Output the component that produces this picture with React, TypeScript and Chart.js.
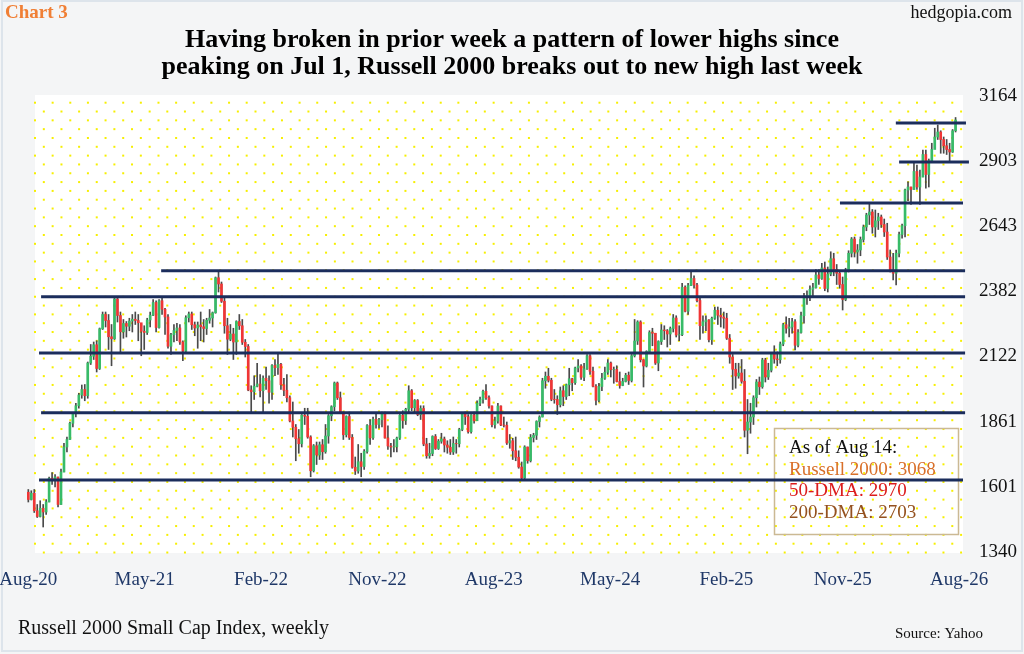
import { useEffect, useRef } from 'react'
import { Chart, registerables } from 'chart.js'

Chart.register(...registerables)

const SERIF = "'Liberation Serif', 'Times New Roman', serif"

// weekly bars, first one is the week of Aug 21 2020, last one Aug 14 2026
const firstOpen = 1579

const closes = [
  1550, 1575, 1505, 1482, 1515, 1500, 1540, 1635, 1630, 1640,
  1530, 1660, 1760, 1790, 1855, 1893, 1925, 1968, 1990, 1965,
  2096, 2123, 2169, 2074, 2233, 2290, 2266, 2201, 2193, 2352,
  2286, 2221, 2254, 2243, 2264, 2271, 2266, 2257, 2223, 2218,
  2268, 2287, 2338, 2238, 2345, 2311, 2280, 2163, 2209, 2226,
  2236, 2180, 2143, 2277, 2292, 2249, 2236, 2248, 2241, 2234,
  2267, 2276, 2297, 2437, 2412, 2343, 2245, 2191, 2212, 2180,
  2262, 2245, 2179, 2162, 1988, 1981, 2003, 2012, 1985, 2035,
  2025, 1979, 2086, 2077, 2091, 2009, 1987, 1957, 1864, 1839,
  1793, 1773, 1887, 1883, 1800, 1665, 1765, 1728, 1769, 1741,
  1804, 1885, 1921, 2016, 1957, 1899, 1809, 1882, 1798, 1679,
  1664, 1701, 1682, 1742, 1846, 1797, 1871, 1850, 1869, 1892,
  1796, 1764, 1760, 1761, 1796, 1887, 1866, 1911, 1985, 1917,
  1946, 1890, 1914, 1772, 1725, 1734, 1802, 1754, 1783, 1792,
  1768, 1759, 1740, 1774, 1773, 1830, 1893, 1881, 1821, 1888,
  1865, 1935, 1950, 1983, 1957, 1924, 1849, 1864, 1924, 1848,
  1847, 1776, 1785, 1745, 1719, 1680, 1636, 1760, 1705, 1798,
  1807, 1862, 1880, 2025, 2043, 2027, 1951, 1950, 1929, 1985,
  1962, 2009, 2033, 2017, 2076, 2084, 2039, 2072, 2125, 2063,
  2003, 1947, 2002, 2035, 2059, 2096, 2069, 2070, 2022, 2006,
  2022, 2047, 2026, 2125, 2184, 2260, 2109, 2084, 2142, 2218,
  2215, 2096, 2182, 2228, 2225, 2212, 2234, 2276, 2208, 2209,
  2399, 2303, 2406, 2434, 2408, 2346, 2245, 2261, 2268, 2189,
  2275, 2307, 2287, 2280, 2275, 2195, 2120, 2071, 2044, 2056,
  2023, 1827, 1860, 1880, 1957, 2020, 2001, 2108, 2040, 2067,
  2132, 2112, 2109, 2172, 2249, 2235, 2240, 2261, 2167, 2218,
  2285, 2362, 2366, 2391, 2397, 2448, 2434, 2476, 2394, 2452,
  2513, 2470, 2455, 2410, 2350, 2468, 2535, 2592, 2540, 2548,
  2590, 2640, 2688, 2700, 2640, 2665, 2680, 2650, 2620, 2520,
  2468, 2455, 2535, 2610, 2645, 2788, 2800, 2790, 2862, 2800,
  2840, 2930, 2850, 2905, 2950, 3000, 3020, 2990, 2965, 2950,
  2940, 3025, 3068,
]

const highs = [
  1590, 1585, 1590, 1530, 1545, 1530, 1550, 1640, 1658, 1650,
  1640, 1672, 1775, 1800, 1860, 1897, 1935, 1975, 2008, 2010,
  2100, 2170, 2180, 2185, 2236, 2300, 2300, 2290, 2250, 2360,
  2355, 2300, 2270, 2262, 2275, 2290, 2300, 2290, 2250, 2245,
  2275, 2300, 2350, 2345, 2350, 2356, 2315, 2290, 2215, 2250,
  2255, 2250, 2185, 2285, 2300, 2300, 2260, 2260, 2300, 2270,
  2275, 2310, 2300, 2440, 2460, 2420, 2360, 2275, 2250, 2235,
  2265, 2290, 2270, 2190, 2170, 2005, 2045, 2095, 2050, 2045,
  2080, 2045, 2090, 2110, 2135, 2095, 2035, 2050, 1965, 1940,
  1850, 1830, 1890, 1915, 1915, 1805, 1770, 1780, 1780, 1790,
  1850, 1890, 1925, 2020, 2020, 1980, 1900, 1885, 1900, 1810,
  1720, 1770, 1735, 1750, 1850, 1870, 1880, 1895, 1875, 1900,
  1900, 1845, 1775, 1790, 1800, 1890, 1905, 1915, 2005, 1990,
  1950, 1950, 1925, 1925, 1795, 1775, 1805, 1810, 1790, 1815,
  1800, 1785, 1790, 1800, 1790, 1835, 1895, 1900, 1890, 1890,
  1900, 1945, 1960, 1988, 2010, 1965, 1925, 1880, 1935, 1925,
  1880, 1860, 1810, 1795, 1800, 1745, 1700, 1765, 1760, 1810,
  1815, 1865, 1885, 2035, 2060, 2075, 2035, 1990, 1965, 2000,
  2005, 2012, 2075, 2035, 2080, 2110, 2090, 2095, 2130, 2130,
  2080, 2010, 2015, 2055, 2080, 2110, 2100, 2080, 2085, 2060,
  2035, 2055, 2060, 2130, 2270, 2265, 2265, 2110, 2145, 2225,
  2235, 2215, 2185, 2250, 2245, 2230, 2240, 2290, 2285, 2245,
  2415, 2405, 2415, 2466, 2445, 2415, 2360, 2285, 2285, 2270,
  2280, 2320, 2320, 2315, 2300, 2295, 2210, 2130, 2095, 2095,
  2110, 2070, 1950, 1935, 1965, 2030, 2040, 2115, 2115, 2095,
  2135, 2165, 2140, 2180, 2255, 2281, 2275, 2275, 2270, 2230,
  2300, 2375, 2385, 2405, 2415, 2470, 2470, 2495, 2500, 2480,
  2541, 2535, 2490, 2465, 2440, 2475, 2545, 2598, 2600, 2570,
  2600, 2648, 2695, 2732, 2710, 2708, 2695, 2688, 2672, 2655,
  2548, 2535, 2548, 2620, 2652, 2792, 2821, 2800, 2895, 2888,
  2868, 2948, 2948, 2912, 2975, 3035, 3048, 3025, 3000, 2990,
  2975, 3030, 3078,
]

const lows = [
  1540, 1548, 1498, 1478, 1480, 1440, 1490, 1540, 1610, 1600,
  1520, 1530, 1660, 1740, 1790, 1840, 1880, 1915, 1955, 1945,
  1955, 2090, 2110, 2060, 2070, 2230, 2240, 2150, 2085, 2190,
  2260, 2140, 2195, 2200, 2225, 2220, 2250, 2185, 2125, 2150,
  2210, 2240, 2285, 2220, 2235, 2290, 2210, 2155, 2130, 2180,
  2185, 2170, 2105, 2140, 2260, 2230, 2205, 2155, 2185, 2180,
  2210, 2255, 2240, 2295, 2380, 2338, 2215, 2130, 2185, 2110,
  2130, 2230, 2170, 2120, 1985, 1900, 1950, 2000, 1960, 1900,
  1990, 1935, 1950, 2045, 2050, 1990, 1965, 1940, 1860, 1800,
  1705, 1735, 1760, 1850, 1795, 1641, 1660, 1690, 1710, 1710,
  1735, 1775, 1865, 1905, 1950, 1895, 1790, 1800, 1790, 1675,
  1650, 1655, 1641, 1670, 1735, 1770, 1790, 1835, 1835, 1840,
  1795, 1750, 1720, 1740, 1740, 1790, 1835, 1850, 1900, 1905,
  1900, 1885, 1870, 1765, 1715, 1715, 1725, 1750, 1750, 1775,
  1740, 1735, 1730, 1730, 1735, 1760, 1825, 1850, 1815, 1815,
  1855, 1865, 1925, 1935, 1950, 1915, 1840, 1835, 1855, 1845,
  1840, 1770, 1755, 1710, 1705, 1675, 1630, 1632, 1695, 1700,
  1780, 1790, 1840, 1880, 1995, 2020, 1945, 1935, 1890, 1920,
  1925, 1950, 1965, 1985, 2010, 2060, 2030, 2025, 2070, 2050,
  2000, 1928, 1940, 1985, 2030, 2050, 2040, 2015, 2020, 1995,
  2005, 2020, 2010, 2020, 2120, 2170, 2100, 2000, 2080, 2135,
  2165, 2090, 2065, 2170, 2190, 2160, 2170, 2220, 2200, 2185,
  2205, 2300, 2290, 2405, 2395, 2340, 2190, 2215, 2225, 2180,
  2170, 2270, 2250, 2240, 2235, 2190, 2095, 1990, 1995, 2035,
  2015, 1800, 1733, 1815, 1850, 1920, 1970, 1995, 2020, 2030,
  2060, 2095, 2085, 2095, 2165, 2215, 2200, 2215, 2148, 2160,
  2215, 2255, 2330, 2345, 2360, 2395, 2410, 2430, 2385, 2380,
  2445, 2445, 2410, 2395, 2308, 2345, 2460, 2520, 2520, 2495,
  2525, 2580, 2625, 2650, 2615, 2600, 2630, 2638, 2602, 2510,
  2460, 2428, 2408, 2520, 2595, 2600, 2745, 2730, 2790, 2790,
  2730, 2840, 2795, 2800, 2900, 2955, 2990, 2935, 2935, 2930,
  2901, 2938, 3020,
]

const opens = [firstOpen, ...closes.slice(0, -1)]

const yTicks = [1340, 1601, 1861, 2122, 2382, 2643, 2903, 3164]
const xTickLabels = ['Aug-20', 'May-21', 'Feb-22', 'Nov-22', 'Aug-23', 'May-24', 'Feb-25', 'Nov-25', 'Aug-26']
const WEEKS_PER_LABEL = 39.15

// support / resistance lines: level, from week, to week
const levels = [3056, 2900, 2736, 2465, 2361, 2136, 1897, 1628]
const levelFrom = [291.9, 293.0, 273.1, 44.7, 4.3, 3.6, 4.3, 3.6]
const levelTo = [315.5, 316.5, 314.5, 315.2, 315.2, 315.2, 315.2, 314.5]

const noteLines = ['As of Aug 14:', 'Russell 2000: 3068', '50-DMA: 2970', '200-DMA: 2703']
const noteColors = ['#111111', '#d9702a', '#dc1c1c', '#94511f']

const UP = '#37bb68'
const DOWN = '#f03535'
const WICK = '#4a4a4a'
const NAVY = '#1b2d5c'

const backdrop = {
  id: 'backdrop',
  beforeDraw(chart: Chart) {
    const { ctx, chartArea: a, width, height } = chart
    ctx.save()
    ctx.fillStyle = '#f4f5f6'
    ctx.fillRect(0, 0, width, height)
    ctx.strokeStyle = '#dde4eb'
    ctx.lineWidth = 2
    ctx.strokeRect(2, 1, width - 4, height - 4)
    ctx.fillStyle = '#ffffff'
    ctx.fillRect(a.left, a.top - 1, a.right - a.left, a.bottom - a.top + 2)
    ctx.fillStyle = '#f6ef00'
    const step = 8.82
    let row = 0
    for (let y = a.top + 6.7; y <= a.bottom + 1; y += step, row++) {
      for (let x = a.left + (row % 2) * step; x <= a.right; x += step * 2) {
        ctx.fillRect(x - 1, y - 1, 2, 2)
      }
    }
    ctx.restore()
  },
}

const noteBox = {
  id: 'noteBox',
  beforeDatasetsDraw(chart: Chart) {
    const { ctx } = chart
    ctx.save()
    ctx.strokeStyle = '#cbb994'
    ctx.lineWidth = 1.5
    ctx.strokeRect(774.5, 428.5, 184, 106)
    ctx.font = `19px ${SERIF}`
    ctx.textAlign = 'left'
    ctx.textBaseline = 'alphabetic'
    noteLines.forEach((t, k) => {
      ctx.fillStyle = noteColors[k]
      ctx.fillText(t, 789, 453 + k * 21.7)
    })
    ctx.restore()
  },
}

const captions = {
  id: 'captions',
  afterDraw(chart: Chart) {
    const { ctx } = chart
    ctx.save()
    ctx.textBaseline = 'alphabetic'
    ctx.textAlign = 'left'
    ctx.fillStyle = '#f07f35'
    ctx.font = `bold 19px ${SERIF}`
    ctx.fillText('Chart 3', 5, 18)
    ctx.fillStyle = '#111111'
    ctx.font = `18px ${SERIF}`
    ctx.textAlign = 'right'
    ctx.fillText('hedgopia.com', 1012, 18)
    ctx.textAlign = 'center'
    ctx.fillStyle = '#000000'
    ctx.font = `bold 26px ${SERIF}`
    ctx.fillText('Having broken in prior week a pattern of lower highs since', 512, 47)
    ctx.fillText('peaking on Jul 1, Russell 2000 breaks out to new high last week', 512, 74)
    ctx.textAlign = 'left'
    ctx.fillStyle = '#111111'
    ctx.font = `20px ${SERIF}`
    ctx.fillText('Russell 2000 Small Cap Index, weekly', 18, 634)
    ctx.textAlign = 'right'
    ctx.font = `15px ${SERIF}`
    ctx.fillText('Source: Yahoo', 983, 638)
    ctx.restore()
  },
}

export default function App() {
  const canvasRef = useRef<HTMLCanvasElement>(null)

  useEffect(() => {
    const canvas = canvasRef.current
    if (!canvas) return

    const lineSets = levels.map((lv, k) => ({
      type: 'line' as const,
      data: [{ x: levelFrom[k], y: lv }, { x: levelTo[k], y: lv }],
      borderColor: NAVY,
      borderWidth: 3,
      pointRadius: 0,
      clip: false as const,
      order: 0,
    }))

    const chart = new Chart(canvas, {
      type: 'bar',
      data: {
        datasets: [
          ...lineSets,
          {
            type: 'bar',
            data: closes.map((c, i) => ({ x: i, y: [opens[i], c] })),
            backgroundColor: closes.map((c, i) => (c >= opens[i] ? UP : DOWN)),
            barThickness: 2,
            grouped: false,
            clip: false,
            order: 1,
          },
          {
            type: 'bar',
            data: lows.map((l, i) => ({ x: i, y: [l, highs[i]] })),
            backgroundColor: WICK,
            barThickness: 1,
            grouped: false,
            clip: false,
            order: 2,
          },
        ] as any,
      },
      options: {
        responsive: false,
        animation: false,
        events: [],
        layout: { padding: { left: 35, right: 0, top: 96, bottom: 62 } },
        plugins: {
          legend: { display: false },
          tooltip: { enabled: false },
        },
        scales: {
          x: {
            type: 'linear',
            min: 2.25,
            max: 314.5,
            offset: false,
            grid: { display: false },
            border: { display: false },
            afterBuildTicks: (s: any) => {
              s.ticks = xTickLabels.map((_, k) => ({ value: k * WEEKS_PER_LABEL }))
            },
            afterFit: (s: any) => {
              s.height = 40
              s.paddingLeft = 0
              s.paddingRight = 0
            },
            ticks: {
              autoSkip: false,
              maxRotation: 0,
              padding: 9,
              color: '#1f3868',
              font: { family: SERIF, size: 19 },
              callback: (_v: any, idx: number) => xTickLabels[idx],
            },
          },
          y: {
            position: 'right',
            min: 1340,
            max: 3164,
            grid: { display: false },
            border: { display: false },
            afterBuildTicks: (s: any) => {
              s.ticks = yTicks.map((v) => ({ value: v }))
            },
            afterFit: (s: any) => {
              s.width = 61
              s.paddingTop = 0
              s.paddingBottom = 0
            },
            ticks: {
              padding: 8,
              color: '#111111',
              font: { family: SERIF, size: 19 },
              callback: (v: any) => String(v),
            },
          },
        },
      },
      plugins: [backdrop, noteBox, captions],
    })

    return () => chart.destroy()
  }, [])

  return (
    <div style={{ position: 'absolute', left: 0, top: 0, width: 1024, height: 654 }}>
      <canvas ref={canvasRef} width={1024} height={654} style={{ display: 'block' }} />
    </div>
  )
}
